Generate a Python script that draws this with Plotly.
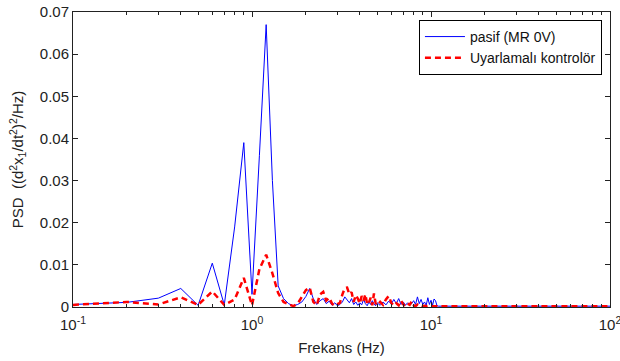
import plotly.graph_objects as go

freq = [0.1, 0.2, 0.3, 0.4, 0.5, 0.6, 0.7, 0.8, 0.9, 1.0,
        1.1, 1.2, 1.3, 1.4, 1.5, 1.6, 1.7, 1.8, 1.9, 2.0,
        2.1, 2.2, 2.3, 2.4, 2.5, 2.6, 2.7, 2.8, 2.9, 3.0,
        3.1, 3.2, 3.3, 3.4, 3.5, 3.6, 3.7, 3.8, 3.9, 4.0,
        4.1, 4.2, 4.3, 4.4, 4.5, 4.6, 4.7, 4.8, 4.9, 5.0,
        5.2, 5.4, 5.6, 5.8, 6.0, 6.2, 6.4, 6.6, 6.8, 7.0,
        7.2, 7.4, 7.6, 7.8, 8.0, 8.2, 8.4, 8.6, 8.8, 9.0,
        9.2, 9.4, 9.6, 9.8, 10.0, 10.2, 10.4, 10.6, 10.8, 11.0,
        12, 14, 17, 20, 25, 30, 40, 50, 60, 70, 80, 90, 100]

pasif = [0.0006, 0.0011, 0.0021, 0.0044, 0.0004, 0.0104, 0.0005, 0.0190, 0.0390, 0.0030,
         0.0360, 0.0670, 0.0300, 0.0050, 0.0020, 0.0008, 0.0003, 0.0006, 0.0012, 0.0025,
         0.0044, 0.0020, 0.0006, 0.0015, 0.0020, 0.0008, 0.0014, 0.0004, 0.0010, 0.0003,
         0.0006, 0.0012, 0.0024, 0.0018, 0.0010, 0.0020, 0.0006, 0.0012, 0.0004, 0.0010,
         0.0005, 0.0018, 0.0008, 0.0003, 0.0012, 0.0006, 0.0015, 0.0008, 0.0003, 0.0010,
         0.0004, 0.0012, 0.0005, 0.0014, 0.0007, 0.0018, 0.0008, 0.0020, 0.0006, 0.0012,
         0.0004, 0.0010, 0.0005, 0.0008, 0.0015, 0.0006, 0.0024, 0.0008, 0.0018, 0.0006,
         0.0012, 0.0004, 0.0022, 0.0006, 0.0016, 0.0004, 0.0019, 0.0015, 0.0003, 0.0002,
         0.0002, 0.0002, 0.0002, 0.0002, 0.0002, 0.0002, 0.0002, 0.0002, 0.0002, 0.0002, 0.0002, 0.0002, 0.0002]

kontrol = [0.0005, 0.0012, 0.0006, 0.0023, 0.0005, 0.0037, 0.0005, 0.0018, 0.0069, 0.0004,
           0.0090, 0.0124, 0.0080, 0.0033, 0.0012, 0.0006, 0.0002, 0.0008, 0.0025, 0.0040,
           0.0046, 0.0012, 0.0004, 0.0030, 0.0036, 0.0015, 0.0022, 0.0008, 0.0003, 0.0006,
           0.0010, 0.0030, 0.0045, 0.0046, 0.0030, 0.0035, 0.0012, 0.0028, 0.0020, 0.0008,
           0.0026, 0.0015, 0.0030, 0.0006, 0.0010, 0.0022, 0.0004, 0.0032, 0.0010, 0.0004,
           0.0012, 0.0005, 0.0018, 0.0026, 0.0010, 0.0003, 0.0009, 0.0004, 0.0015, 0.0006,
           0.0002, 0.0008, 0.0005, 0.0013, 0.0004, 0.0002, 0.0006, 0.0003, 0.0004, 0.0002,
           0.0003, 0.0002, 0.0003, 0.0002, 0.0002, 0.0002, 0.0002, 0.0002, 0.0002, 0.0002,
           0.0002, 0.0002, 0.0002, 0.0002, 0.0002, 0.0002, 0.0002, 0.0002, 0.0002, 0.0002, 0.0002, 0.0002, 0.0002]

x_tickvals = [0.1, 1, 10, 100]
x_ticktext = ["10<sup>-1</sup>", "10<sup>0</sup>", "10<sup>1</sup>", "10<sup>2</sup>"]
x_minor = [0.2, 0.3, 0.4, 0.5, 0.6, 0.7, 0.8, 0.9,
           2, 3, 4, 5, 6, 7, 8, 9,
           20, 30, 40, 50, 60, 70, 80, 90]
y_tickvals = [0, 0.01, 0.02, 0.03, 0.04, 0.05, 0.06, 0.07]
y_ticktext = ["0", "0.01", "0.02", "0.03", "0.04", "0.05", "0.06", "0.07"]

FONT = "Liberation Sans, Arial, sans-serif"

fig = go.Figure()
fig.add_trace(go.Scatter(x=freq, y=pasif, mode="lines", name="pasif (MR 0V)",
                         line=dict(color="#0000ff", width=1)))
fig.add_trace(go.Scatter(x=freq, y=kontrol, mode="lines", name="Uyarlamalı kontrolör",
                         line=dict(color="#ff0000", width=2.5, dash="6px,4px")))

fig.update_layout(
    width=620, height=361,
    margin=dict(l=73, r=10, t=12, b=54),
    paper_bgcolor="white", plot_bgcolor="white",
    font=dict(family=FONT, size=15, color="#222"),
    showlegend=True,
    legend=dict(x=0.985, y=0.973, xanchor="right", yanchor="top",
                bordercolor="black", borderwidth=1, bgcolor="white",
                font=dict(size=14, color="#111"), tracegroupgap=0,
                itemwidth=40),
)
fig.update_xaxes(
    type="log", range=[-1, 2],
    tickvals=x_tickvals, ticktext=x_ticktext,
    ticks="inside", ticklen=5, tickcolor="#222",
    ticklabelstandoff=4, automargin=False, ticklabeloverflow="allow",
    minor=dict(tickvals=x_minor, ticks="inside", ticklen=3, tickcolor="#222", showgrid=False),
    showline=True, linecolor="#222", linewidth=1, mirror="ticks",
    showgrid=False, zeroline=False,
    title=dict(text="Frekans (Hz)", font=dict(size=15), standoff=10),
)
fig.update_yaxes(
    range=[0, 0.07],
    tickvals=y_tickvals, ticktext=y_ticktext,
    ticks="inside", ticklen=5, tickcolor="#222",
    showline=True, linecolor="#222", linewidth=1, mirror="ticks",
    showgrid=False, zeroline=False, automargin=False,
    title=dict(text="PSD  ((d<sup>2</sup>x<sub>1</sub>/dt<sup>2</sup>)<sup>2</sup>/Hz)",
               font=dict(size=15), standoff=12),
)

fig.write_html("out.html")
